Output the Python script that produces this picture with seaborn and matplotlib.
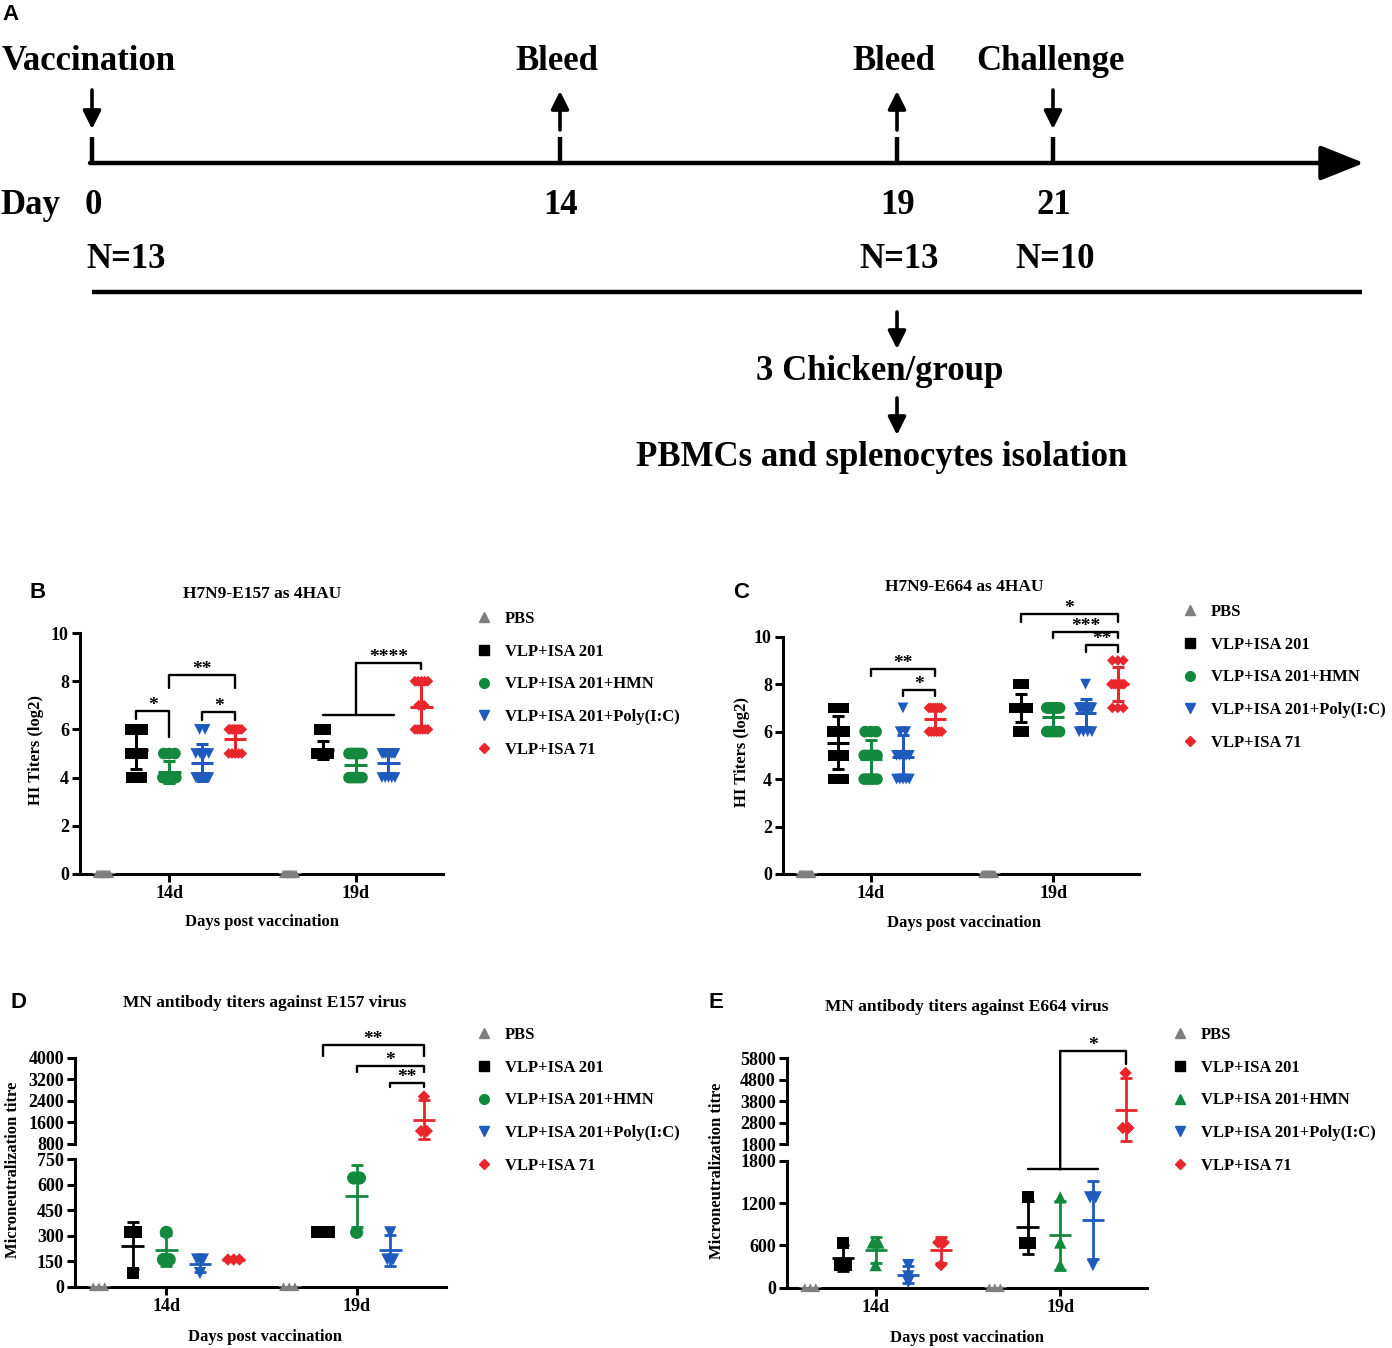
import numpy as np
import pandas as pd
import matplotlib
matplotlib.use('Agg')
import matplotlib.pyplot as plt
from matplotlib.lines import Line2D
from matplotlib.patches import ConnectionPatch
import seaborn as sns

# estilo general
sns.set_theme(style='ticks')
plt.rcParams['font.family'] = ['Liberation Serif', 'DejaVu Serif']
plt.rcParams['font.weight'] = 'bold'
plt.rcParams['axes.labelweight'] = 'bold'
plt.rcParams['axes.edgecolor'] = 'black'
plt.rcParams['xtick.color'] = 'black'
plt.rcParams['ytick.color'] = 'black'
plt.rcParams['text.color'] = 'black'

W, H = 1392, 1348

# =============================================================================
# DATOS
# =============================================================================
groups = ['PBS', 'VLP+ISA 201', 'VLP+ISA 201+HMN', 'VLP+ISA 201+Poly(I:C)', 'VLP+ISA 71']
days = ['14d', '19d']
colors = ['#7f7f7f', '#000000', '#12893c', '#1f5bbd', '#e8262c']

timeline_days = ['0', '14', '19', '21']
timeline_events = ['Vaccination', 'Bleed', 'Bleed', 'Challenge']
timeline_dirs = ['down', 'up', 'up', 'down']
timeline_n = ['N=13', '', 'N=13', 'N=10']

# HI titers (log2), H7N9-E157 as 4HAU
hi_e157_14d = [
    [0, 0, 0, 0, 0, 0, 0, 0, 0, 0, 0, 0, 0],
    [4, 4, 4, 5, 5, 5, 5, 5, 6, 6, 6, 6, 6],
    [4, 4, 4, 4, 4, 4, 4, 4, 4, 4, 5, 5, 5],
    [4, 4, 4, 4, 4, 4, 4, 5, 5, 5, 5, 6, 6],
    [5, 5, 5, 5, 5, 6, 6, 6, 6, 6, 6, 6, 6],
]
hi_e157_19d = [
    [0, 0, 0, 0, 0, 0, 0, 0, 0, 0, 0, 0, 0],
    [5, 5, 5, 5, 5, 5, 5, 5, 5, 5, 5, 6, 6],
    [4, 4, 4, 4, 4, 4, 5, 5, 5, 5, 5, 5, 5],
    [4, 4, 4, 4, 4, 5, 5, 5, 5, 5, 5, 5, 5],
    [6, 6, 6, 6, 6, 6, 7, 7, 8, 8, 8, 8, 8],
]
# HI titers (log2), H7N9-E664 as 4HAU
hi_e664_14d = [
    [0, 0, 0, 0, 0, 0, 0, 0, 0, 0, 0, 0, 0],
    [4, 4, 4, 5, 5, 5, 6, 6, 6, 6, 7, 7, 7],
    [4, 4, 4, 4, 4, 5, 5, 5, 5, 5, 6, 6, 6],
    [4, 4, 4, 4, 4, 5, 5, 5, 5, 5, 6, 6, 7],
    [6, 6, 6, 6, 6, 6, 7, 7, 7, 7, 7, 7, 7],
]
hi_e664_19d = [
    [0, 0, 0, 0, 0, 0, 0, 0, 0, 0, 0, 0, 0],
    [6, 6, 7, 7, 7, 7, 7, 7, 7, 7, 7, 8, 8],
    [6, 6, 6, 6, 6, 7, 7, 7, 7, 7, 7, 7, 7],
    [6, 6, 6, 6, 7, 7, 7, 7, 7, 7, 7, 7, 8],
    [7, 7, 7, 8, 8, 8, 8, 8, 8, 8, 9, 9, 9],
]
# MN titres
mn_e157_14d = [[0, 0, 0], [80, 320, 320], [160, 160, 320], [80, 160, 160], [160, 160, 160]]
mn_e157_19d = [[0, 0, 0], [320, 320, 320], [320, 640, 640], [160, 160, 320], [1280, 1280, 2560]]
mn_e664_14d = [[0, 0, 0], [320, 320, 640], [320, 640, 640], [80, 160, 320], [320, 640, 640]]
mn_e664_19d = [[0, 0, 0], [640, 640, 1280], [320, 640, 1280], [320, 1280, 1280], [2560, 2560, 5120]]

# significancia: (dia, grupo1, grupo2, y barra, y pata1, y pata2, etiqueta)
sig_b = [('14d', 1, 2, 6.75, 6.42, 5.7, '*'),
         ('14d', 2, 4, 8.25, 7.72, 7.72, '**'),
         ('14d', 3, 4, 6.73, 6.4, 6.4, '*')]
sig_c = [('14d', 2, 4, 8.62, 8.34, 8.34, '**'),
         ('14d', 3, 4, 7.75, 7.5, 7.5, '*'),
         ('19d', 1, 4, 10.96, 10.63, 10.63, '*'),
         ('19d', 2, 4, 10.2, 9.93, 9.93, '***'),
         ('19d', 3, 4, 9.65, 9.34, 9.34, '**')]
sig_d = [('19d', 1, 4, 4480, 4070, 4070, '**'),
         ('19d', 2, 4, 3690, 3480, 3480, '*'),
         ('19d', 3, 4, 3060, 2900, 2900, '**')]

HUE_STEP = 0.177
MEAN_HALF = 0.06
palette = dict(zip(groups, colors))
day_idx = {d: i for i, d in enumerate(days)}
group_idx = {g: i for i, g in enumerate(groups)}


def make_frame(lists_14, lists_19):
    rows = []
    for d, lists in zip(days, [lists_14, lists_19]):
        for g, vals in zip(groups, lists):
            for v in vals:
                rows.append((d, g, v))
    df = pd.DataFrame(rows, columns=['day', 'group', 'value'])
    df['pos'] = df['day'].map(day_idx) + (df['group'].map(group_idx) - 2) * HUE_STEP
    key = ['day', 'group', 'value']
    df['k'] = df.groupby(key).cumcount()
    df['n'] = df.groupby(key)['value'].transform('size')
    half = np.minimum(0.035, 0.015 * (df['n'] - 1))
    frac = np.where(df['n'] > 1, df['k'] / (df['n'] - 1).clip(lower=1), 0.5)
    df['x'] = df['pos'] - half + 2 * half * frac
    return df


def summarise(df):
    return (df.groupby(['day', 'group'], sort=False)
              .agg(pos=('pos', 'first'), mean=('value', 'mean'), sd=('value', 'std'))
              .reset_index())


def draw_points(ax, df, markers, sizes):
    sns.scatterplot(data=df, x='x', y='value', hue='group', style='group', size='group',
                    hue_order=groups, style_order=groups, size_order=groups,
                    palette=palette, markers=markers, sizes=sizes, linewidth=0,
                    legend=False, clip_on=False, zorder=3, ax=ax)


def draw_stats(ax, st, lw=2.2, cap=4.3):
    for r in st.itertuples():
        c = palette[r.group]
        ax.errorbar(r.pos, r.mean, yerr=r.sd, fmt='none', ecolor=c, elinewidth=lw,
                    capsize=cap, capthick=lw, zorder=4)
        ax.hlines(r.mean, r.pos - MEAN_HALF, r.pos + MEAN_HALF, colors=c, lw=lw, zorder=4)


def style_axes(ax, ylim, yticks, bound, xaxis=True):
    ax.set_facecolor('none')
    ax.set_xlim(-0.48, 1.47)
    ax.set_ylim(*ylim)
    ax.set_yticks(yticks)
    sns.despine(ax=ax)
    ax.spines['left'].set_bounds(*bound)
    for s in ax.spines.values():
        s.set_linewidth(2.2)
    ax.tick_params(axis='both', width=2.2, length=6, labelsize=13, pad=2)
    if xaxis:
        ax.set_xticks([0, 1])
        ax.set_xticklabels(days)
    else:
        ax.spines['bottom'].set_visible(False)
        ax.set_xticks([])
    ax.set_xlabel('')
    ax.set_ylabel('')


def xpos(day, g):
    return day_idx[day] + (g - 2) * HUE_STEP


def star(ax, x, y, label):
    ax.annotate(label, xy=(x, y), xytext=(0, 4), textcoords='offset points',
                ha='center', va='center', fontsize=14, fontweight='bold')


def sig_bracket(ax, day, g1, g2, y, y1, y2, label):
    x1, x2 = xpos(day, g1), xpos(day, g2)
    ax.plot([x1, x1, x2, x2], [y1, y, y, y2], color='black', lw=1.7, clip_on=False)
    star(ax, (x1 + x2) / 2, y, label)


def group_bracket(ax_low, ax_high, day, y_group, y_top, y_leg, label):
    # comparacion de ISA 71 contra los tres grupos VLP+ISA 201
    x1, xm, x3, xr = xpos(day, 1), xpos(day, 2), xpos(day, 3), xpos(day, 4)
    ax_low.plot([x1, x3 + 0.03], [y_group, y_group], color='black', lw=1.7, clip_on=False)
    if ax_low is ax_high:
        ax_low.plot([xm, xm], [y_group, y_top], color='black', lw=1.7, clip_on=False)
    else:
        cp = ConnectionPatch(xyA=(xm, y_group), coordsA=ax_low.transData,
                             xyB=(xm, y_top), coordsB=ax_high.transData,
                             color='black', lw=1.7, shrinkA=0, shrinkB=0)
        fig.add_artist(cp)
    ax_high.plot([xm, xr, xr], [y_top, y_top, y_leg], color='black', lw=1.7, clip_on=False)
    star(ax_high, (xm + xr) / 2, y_top, label)


def px_axes(left, top, right, bottom):
    return fig.add_axes([left / W, 1 - bottom / H, (right - left) / W, (bottom - top) / H])


def ftext(x, y, s, **kw):
    kw.setdefault('ha', 'center')
    kw.setdefault('va', 'center')
    kw.setdefault('fontweight', 'bold')
    return fig.text(x / W, 1 - y / H, s, **kw)


def add_legend(marker_x, first_y, markers):
    handles = [Line2D([], [], linestyle='none', marker=markers[g], color=palette[g],
                      markersize=(5.5 if markers[g] == 'D' else 7)) for g in groups]
    fs_px = 12 / 72 * 100
    fig.legend(handles, groups, loc='upper left', frameon=False,
               bbox_to_anchor=((marker_x - fs_px / 2) / W, 1 - (first_y - 6) / H),
               borderpad=0, borderaxespad=0, handlelength=1, handletextpad=0.75,
               labelspacing=1.0, prop={'size': 12, 'weight': 'bold'})


fig = plt.figure(figsize=(W / 100, H / 100), dpi=100)
fig.patch.set_facecolor('white')

# =============================================================================
# PANEL A: ESQUEMA TEMPORAL
# =============================================================================
ax_a = fig.add_axes([0, 1 - 500 / H, 1, 500 / H])
ax_a.set_xlim(0, W)
ax_a.set_ylim(500, 0)
ax_a.axis('off')
timeline_x = [92, 560, 897, 1053]

ax_a.annotate('', xy=(1364, 163), xytext=(90, 163),
              arrowprops=dict(arrowstyle='-|>,head_length=0.9,head_width=0.36', lw=3.2,
                              color='black', mutation_scale=30, shrinkA=0, shrinkB=0))
small_arrow = dict(arrowstyle='-|>,head_length=0.6,head_width=0.3', lw=2.6,
                   color='black', mutation_scale=18, shrinkA=0, shrinkB=0)
for x, d, ev, dr, n in zip(timeline_x, timeline_days, timeline_events, timeline_dirs, timeline_n):
    ax_a.plot([x, x], [137, 163], color='black', lw=3.2, solid_capstyle='butt')
    if dr == 'down':
        ax_a.annotate('', xy=(x, 129), xytext=(x, 90), arrowprops=small_arrow)
    else:
        ax_a.annotate('', xy=(x, 91), xytext=(x, 130), arrowprops=small_arrow)
    ax_a.text(x - 3, 62, ev, ha='center', va='center', fontsize=25, fontweight='bold')
    ax_a.text(x + 1, 205, d, ha='center', va='center', fontsize=25, fontweight='bold')
ax_a.text(0, 205, 'Day', ha='left', va='center', fontsize=25, fontweight='bold')
for i, (x, n) in enumerate(zip(timeline_x, timeline_n)):
    if not n:
        continue
    if i == 0:
        ax_a.text(x - 6, 259, n, ha='left', va='center', fontsize=25, fontweight='bold')
    else:
        ax_a.text(x + 2, 259, n, ha='center', va='center', fontsize=25, fontweight='bold')
ax_a.plot([92, 1362], [292, 292], color='black', lw=3.2, solid_capstyle='butt')
ax_a.annotate('', xy=(897, 349), xytext=(897, 312), arrowprops=small_arrow)
ax_a.text(880, 372, '3 Chicken/group', ha='center', va='center', fontsize=25, fontweight='bold')
ax_a.annotate('', xy=(897, 435), xytext=(897, 398), arrowprops=small_arrow)
ax_a.text(882, 457, 'PBMCs and splenocytes isolation', ha='center', va='center',
          fontsize=25, fontweight='bold')
ftext(2, 15, 'A', ha='left', family='Liberation Sans', fontsize=16)

# =============================================================================
# PANELES B y C: TITULOS HI
# =============================================================================
mk_hi = {'PBS': '^', 'VLP+ISA 201': 's', 'VLP+ISA 201+HMN': 'o',
         'VLP+ISA 201+Poly(I:C)': 'v', 'VLP+ISA 71': 'D'}
sz_hi = {'PBS': 34, 'VLP+ISA 201': 58, 'VLP+ISA 201+HMN': 70,
         'VLP+ISA 201+Poly(I:C)': 60, 'VLP+ISA 71': 30}

# B
df_b = make_frame(hi_e157_14d, hi_e157_19d)
ax_b = px_axes(80, 874 - 12 * 24.1, 443, 874)
draw_points(ax_b, df_b, mk_hi, sz_hi)
draw_stats(ax_b, summarise(df_b))
style_axes(ax_b, (0, 12), range(0, 11, 2), (0, 10))
for s in sig_b:
    sig_bracket(ax_b, *s)
group_bracket(ax_b, ax_b, '19d', 6.6, 8.75, 8.5, '****')
ftext(38, 593, 'B', family='Liberation Sans', fontsize=16)
ftext(262, 594, 'H7N9-E157 as 4HAU', fontsize=12.5)
ftext(36, 750, 'HI Titers (log2)', rotation=90, fontsize=12)
ftext(262, 922, 'Days post vaccination', fontsize=12)
add_legend(484, 617, mk_hi)

# C
df_c = make_frame(hi_e664_14d, hi_e664_19d)
ax_c = px_axes(783, 874 - 12 * 23.73, 1139, 874)
draw_points(ax_c, df_c, mk_hi, sz_hi)
draw_stats(ax_c, summarise(df_c))
style_axes(ax_c, (0, 12), range(0, 11, 2), (0, 10))
for s in sig_c:
    sig_bracket(ax_c, *s)
ftext(741, 592, 'C', family='Liberation Sans', fontsize=16)
ftext(964, 587, 'H7N9-E664 as 4HAU', fontsize=12.5)
ftext(742, 752, 'HI Titers (log2)', rotation=90, fontsize=12)
ftext(964, 923, 'Days post vaccination', fontsize=12)
add_legend(1190, 610, mk_hi)

# =============================================================================
# PANELES D y E: MICRONEUTRALIZACION (eje Y cortado)
# =============================================================================
sz_mn = {'PBS': 40, 'VLP+ISA 201': 75, 'VLP+ISA 201+HMN': 90,
         'VLP+ISA 201+Poly(I:C)': 78, 'VLP+ISA 71': 40}
mk_e = dict(mk_hi)
mk_e['VLP+ISA 201+HMN'] = '^'
sz_e = dict(sz_mn)
sz_e['VLP+ISA 201+HMN'] = 78


def broken_panel(df, low_box, high_box, low_lim, high_lim, low_ticks, high_ticks,
                 high_bound, markers, sizes):
    ax_lo = px_axes(*low_box)
    ax_hi = px_axes(*high_box)
    st = summarise(df)
    draw_points(ax_lo, df[df['value'] <= low_lim[1]], markers, sizes)
    draw_points(ax_hi, df[df['value'] >= high_lim[0]], markers, sizes)
    draw_stats(ax_lo, st, lw=2.0, cap=4.3)
    draw_stats(ax_hi, st, lw=2.0, cap=4.3)
    style_axes(ax_lo, low_lim, low_ticks, low_lim)
    style_axes(ax_hi, high_lim, high_ticks, high_bound, xaxis=False)
    return ax_lo, ax_hi


# D
df_d = make_frame(mn_e157_14d, mn_e157_19d)
ax_d_lo, ax_d_hi = broken_panel(df_d, (75, 1159.3, 446, 1286.7), (75, 1036, 446, 1144),
                                (0, 750), (800, 4805), range(0, 751, 150),
                                range(800, 4001, 800), (800, 4000), mk_hi, sz_mn)
for s in sig_d:
    sig_bracket(ax_d_hi, *s)
ftext(18, 1002, 'D', family='Liberation Sans', fontsize=16)
ftext(265, 1003, 'MN antibody titers against E157 virus', fontsize=12.5)
ftext(13, 1170, 'Microneutralization titre', rotation=90, fontsize=12)
ftext(265, 1337, 'Days post vaccination', fontsize=12)
add_legend(484, 1033, mk_hi)

# E
df_e = make_frame(mn_e664_14d, mn_e664_19d)
ax_e_lo, ax_e_hi = broken_panel(df_e, (787, 1160.7, 1147, 1287.7), (787, 1039, 1147, 1144.3),
                                (0, 1800), (1800, 6697), range(0, 1801, 600),
                                range(1800, 5801, 1000), (1800, 5800), mk_e, sz_e)
group_bracket(ax_e_lo, ax_e_hi, '19d', 1677, 6138, 5534, '*')
ftext(716, 1003, 'E', family='Liberation Sans', fontsize=16)
ftext(967, 1007, 'MN antibody titers against E664 virus', fontsize=12.5)
ftext(717, 1171, 'Microneutralization titre', rotation=90, fontsize=12)
ftext(967, 1338, 'Days post vaccination', fontsize=12)
add_legend(1180, 1033, mk_e)

fig.savefig('out.png', dpi=100, facecolor='white')
plt.close(fig)
